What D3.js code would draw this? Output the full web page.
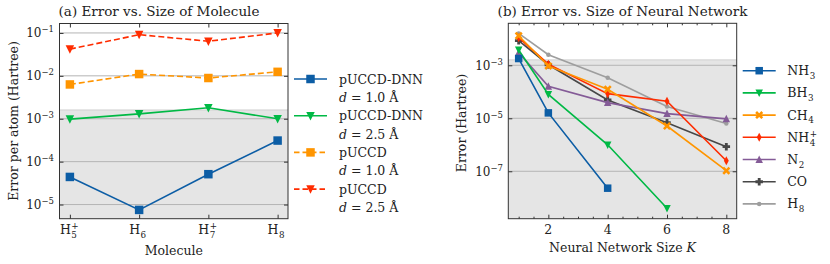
<!DOCTYPE html>
<html>
<head>
<meta charset="utf-8">
<script src="https://cdn.jsdelivr.net/npm/d3@7"></script>
<style>
body { margin: 0; background: #fff; }
</style>
</head>
<body>
<script>
// ---- data, panel (a) ----
var molBase = ["H", "H", "H", "H"];
var molSub = ["5", "6", "7", "8"];
var molSup = ["+", "", "+", ""];
var dnn10 = [4.4e-5, 7.5e-6, 5.1e-5, 3.1e-4];
var dnn25 = [9.8e-4, 1.3e-3, 1.8e-3, 1.0e-3];
var pu10 = [6.3e-3, 1.1e-2, 8.9e-3, 1.24e-2];
var pu25 = [4.2e-2, 9.1e-2, 6.4e-2, 1.0e-1];
var aDecades = [1e-1, 1e-2, 1e-3, 1e-4, 1e-5];
var aExps = [-1, -2, -3, -4, -5];

// ---- data, panel (b) ----
var sizesK = [1, 2, 4, 6, 8];
var xTicksB = [2, 4, 6, 8];
var nh3 = [1.8e-3, 1.6e-5, 2.3e-8];
var bh3 = [3.8e-3, 8.0e-5, 1.0e-6, 4.0e-9];
var ch4 = [1.3e-2, 0.95e-3, 1.25e-4, 5.1e-6, 1.05e-7];
var nh4 = [1.1e-2, 1.1e-3, 8.5e-5, 4.4e-5, 2.5e-7];
var n2 = [3.0e-3, 1.6e-4, 3.9e-5, 1.5e-5, 9.5e-6];
var co = [8.5e-3, 1.05e-3, 4.9e-5, 6.8e-6, 8.5e-7];
var h8 = [1.6e-2, 2.5e-3, 3.4e-4, 2.8e-5, 6.4e-6];
var bDecades = [1e-3, 1e-5, 1e-7];
var bExps = [-3, -5, -7];
var chemAcc = 1.6e-3;

var colors = ["#0C5DA5", "#00B945", "#FF9500", "#FF2C00", "#845B97", "#474747", "#9e9e9e"];

var FONT = "'DejaVu Serif', 'Liberation Serif', serif";
var svg = d3.select("body").append("svg").attr("width", 830).attr("height", 264)
    .attr("font-family", FONT);

// marker shapes
function marker(sel, type, size, color) {
    var s = size / 2, p;
    if (type == "s") p = [[-s,-s],[s,-s],[s,s],[-s,s]];
    else if (type == "v") p = [[-s,-s*0.9],[s,-s*0.9],[0,s*1.1]];
    else if (type == "^") p = [[-s,s*0.9],[s,s*0.9],[0,-s*1.1]];
    else if (type == "d") p = [[0,-s*1.2],[s*0.65,0],[0,s*1.2],[-s*0.65,0]];
    else if (type == "X") {
        var a = s*0.45, b = s;
        p = [[0,-a],[b-a,-b],[b,-b+a],[a,0],[b,b-a],[b-a,b],[0,a],[-b+a,b],[-b,b-a],[-a,0],[-b,-b+a],[-b+a,-b]];
    } else if (type == "P") {
        var t = s*0.38;
        p = [[-t,-s],[t,-s],[t,-t],[s,-t],[s,t],[t,t],[t,s],[-t,s],[-t,t],[-s,t],[-s,-t],[-t,-t]];
    }
    if (type == "o") {
        return sel.append("circle").attr("r", s).attr("fill", color);
    }
    return sel.append("path").attr("d", "M" + p.map(q => q.join(",")).join("L") + "Z")
        .attr("fill", color);
}

function txt(g, x, y, fs) {
    return g.append("text").attr("x", x).attr("y", y).attr("font-family", FONT)
        .attr("font-size", fs).attr("fill", "#222");
}

function powLabel(g, x, y, exp) {
    var t = txt(g, x, y, 12).attr("text-anchor", "end");
    t.append("tspan").text("10");
    t.append("tspan").attr("dy", -5).attr("font-size", 8.5).text("\u2212" + Math.abs(exp));
}

function chemLabel(g, x, y, base, sub, sup, fs) {
    var t = txt(g, x, y, fs);
    t.append("tspan").text(base);
    var w = t.node().getComputedTextLength();
    txt(g, x + w + 0.5, y + fs * 0.3, fs * 0.7).text(sub);
    if (sup) txt(g, x + w + 0.5, y - fs * 0.4, fs * 0.7).text(sup);
    return t;
}

function frame(g, x, y) {
    var x0 = x.range()[0], x1 = x.range()[1], y0 = y.range()[0], y1 = y.range()[1];
    g.append("rect").attr("x", x0).attr("y", y1).attr("width", x1 - x0).attr("height", y0 - y1)
        .attr("fill", "none").attr("stroke", "#333").attr("stroke-width", 1);
}

// =============== panel (a) ===============
var xa = d3.scaleLinear().domain([-0.15, 3.15]).range([59.5, 288]);
var ya = d3.scaleLog().domain([Math.pow(10, -5.33), Math.pow(10, -0.78)]).range([218.7, 23.5]);
var ga = svg.append("g");

ga.append("rect").attr("x", 59.5).attr("y", ya(chemAcc)).attr("width", 288 - 59.5)
    .attr("height", 218.7 - ya(chemAcc)).attr("fill", "#e5e5e5");
ga.append("line").attr("x1", 59.5).attr("x2", 288).attr("y1", ya(chemAcc)).attr("y2", ya(chemAcc))
    .attr("stroke", "#d0d0d0").attr("stroke-width", 1);

ga.append("g").selectAll("line").data(aDecades).enter().append("line")
    .attr("x1", 59.5).attr("x2", 288).attr("y1", d => ya(d)).attr("y2", d => ya(d))
    .attr("stroke", "#b4b4b4").attr("stroke-width", 1);

// ticks inward
ga.append("g").attr("transform", "translate(59.5,0)").call(d3.axisLeft(ya).tickValues(aDecades).tickSize(-4).tickFormat(""));
ga.append("g").attr("transform", "translate(288,0)").call(d3.axisRight(ya).tickValues(aDecades).tickSize(-4).tickFormat(""));
ga.append("g").attr("transform", "translate(0,218.7)").call(d3.axisBottom(xa).tickValues([0,1,2,3]).tickSize(-4).tickFormat(""));
ga.append("g").attr("transform", "translate(0,23.5)").call(d3.axisTop(xa).tickValues([0,1,2,3]).tickSize(-4).tickFormat(""));
ga.selectAll(".domain").remove();
ga.selectAll(".tick line").attr("stroke", "#333");

var seriesA = [
    {v: dnn10, c: colors[0], m: "s", dash: null},
    {v: dnn25, c: colors[1], m: "v", dash: null},
    {v: pu10, c: colors[2], m: "s", dash: "6,3"},
    {v: pu25, c: colors[3], m: "v", dash: "6,3"}
];
var lineA = d3.line().x((d, i) => xa(i)).y(d => ya(d));
seriesA.forEach(function(s) {
    ga.append("path").attr("d", lineA(s.v)).attr("fill", "none").attr("stroke", s.c)
        .attr("stroke-width", 1.6).attr("stroke-dasharray", s.dash);
    s.v.forEach(function(d, i) {
        marker(ga.append("g").attr("transform", "translate(" + xa(i) + "," + ya(d) + ")"), s.m, 8.5, s.c);
    });
});
frame(ga, xa, ya);

aDecades.forEach(function(d, i) { powLabel(ga, 54, ya(d) + 4.5, aExps[i]); });
molBase.forEach(function(b, i) {
    chemLabel(ga, xa(i) - 10, 234, b, molSub[i], molSup[i], 12.5);
});
txt(ga, xa(1.5), 255, 12.5).attr("text-anchor", "middle").text("Molecule");
txt(ga, 0, 0, 12.5).attr("transform", "translate(18,121) rotate(-90)").attr("text-anchor", "middle")
    .text("Error per atom (Hartree)");
txt(ga, 159, 16, 13.5).attr("text-anchor", "middle").text("(a) Error vs. Size of Molecule");

// legend (a)
var legA = [
    {name: "pUCCD-DNN", d: "1.0"},
    {name: "pUCCD-DNN", d: "2.5"},
    {name: "pUCCD", d: "1.0"},
    {name: "pUCCD", d: "2.5"}
];
legA.forEach(function(l, i) {
    var s = seriesA[i], y = 79 + i * 36.7;
    ga.append("line").attr("x1", 294).attr("x2", 327).attr("y1", y).attr("y2", y)
        .attr("stroke", s.c).attr("stroke-width", 1.6).attr("stroke-dasharray", s.dash ? "5.5,3" : null);
    marker(ga.append("g").attr("transform", "translate(310.5," + y + ")"), s.m, 8.5, s.c);
    txt(ga, 339, y + 4.5, 12.5).text(l.name);
    var t = txt(ga, 339, y + 23, 12.5);
    t.append("tspan").attr("font-style", "italic").text("d");
    t.append("tspan").text(" = " + l.d + " \u00c5");
});

// =============== panel (b) ===============
var xb = d3.scaleLinear().domain([0.65, 8.35]).range([508.3, 736.7]);
var yb = d3.scaleLog().domain([Math.pow(10, -8.79), Math.pow(10, -1.415)]).range([218.7, 23.3]);
var gb = svg.append("g");

gb.append("rect").attr("x", 508.3).attr("y", yb(chemAcc)).attr("width", 736.7 - 508.3)
    .attr("height", 218.7 - yb(chemAcc)).attr("fill", "#e5e5e5");
gb.append("line").attr("x1", 508.3).attr("x2", 736.7).attr("y1", yb(chemAcc)).attr("y2", yb(chemAcc))
    .attr("stroke", "#d0d0d0").attr("stroke-width", 1);
gb.append("g").selectAll("line").data(bDecades).enter().append("line")
    .attr("x1", 508.3).attr("x2", 736.7).attr("y1", d => yb(d)).attr("y2", d => yb(d))
    .attr("stroke", "#b4b4b4").attr("stroke-width", 1);

var minorB = d3.range(1, 8.01, 0.5).filter(k => xTicksB.indexOf(k) < 0);
gb.append("g").attr("transform", "translate(508.3,0)").call(d3.axisLeft(yb).tickValues(bDecades).tickSize(-4).tickFormat(""));
gb.append("g").attr("transform", "translate(736.7,0)").call(d3.axisRight(yb).tickValues(bDecades).tickSize(-4).tickFormat(""));
gb.append("g").attr("transform", "translate(0,218.7)").call(d3.axisBottom(xb).tickValues(xTicksB).tickSize(-4).tickFormat(""));
gb.append("g").attr("transform", "translate(0,23.3)").call(d3.axisTop(xb).tickValues(xTicksB).tickSize(-4).tickFormat(""));
gb.append("g").attr("transform", "translate(0,218.7)").call(d3.axisBottom(xb).tickValues(minorB).tickSize(-2).tickFormat(""));
gb.append("g").attr("transform", "translate(0,23.3)").call(d3.axisTop(xb).tickValues(minorB).tickSize(-2).tickFormat(""));
gb.selectAll(".domain").remove();
gb.selectAll(".tick line").attr("stroke", "#333");

var seriesB = [
    {v: nh3, m: "s", size: 7.5, base: "NH", sub: "3", sup: ""},
    {v: bh3, m: "v", size: 7.5, base: "BH", sub: "3", sup: ""},
    {v: ch4, m: "X", size: 8, base: "CH", sub: "4", sup: ""},
    {v: nh4, m: "d", size: 7.5, base: "NH", sub: "4", sup: "+"},
    {v: n2, m: "^", size: 7.5, base: "N", sub: "2", sup: ""},
    {v: co, m: "P", size: 7.5, base: "CO", sub: "", sup: ""},
    {v: h8, m: "o", size: 4.5, base: "H", sub: "8", sup: ""}
];
var lineB = d3.line().x((d, i) => xb(sizesK[i])).y(d => yb(d));
// draw in reverse so the first series sits on top
seriesB.slice().reverse().forEach(function(s) {
    var c = colors[seriesB.indexOf(s)];
    gb.append("path").attr("d", lineB(s.v)).attr("fill", "none").attr("stroke", c).attr("stroke-width", 1.6);
    s.v.forEach(function(d, i) {
        marker(gb.append("g").attr("transform", "translate(" + xb(sizesK[i]) + "," + yb(d) + ")"), s.m, s.size, c);
    });
});
frame(gb, xb, yb);

bDecades.forEach(function(d, i) { powLabel(gb, 503, yb(d) + 4.5, bExps[i]); });
xTicksB.forEach(function(k) {
    txt(gb, xb(k), 234, 12.5).attr("text-anchor", "middle").text(k);
});
var xl = txt(gb, xb(4.5), 252, 12.5).attr("text-anchor", "middle");
xl.append("tspan").text("Neural Network Size ");
xl.append("tspan").attr("font-style", "italic").text("K");
txt(gb, 0, 0, 12.5).attr("transform", "translate(466,123) rotate(-90)").attr("text-anchor", "middle")
    .text("Error (Hartree)");
txt(gb, 622.5, 16, 13.5).attr("text-anchor", "middle").text("(b) Error vs. Size of Neural Network");

// legend (b)
seriesB.forEach(function(s, i) {
    var c = colors[i], y = 70.7 + i * 22.2;
    gb.append("line").attr("x1", 742.7).attr("x2", 775.7).attr("y1", y).attr("y2", y)
        .attr("stroke", c).attr("stroke-width", 1.6);
    marker(gb.append("g").attr("transform", "translate(759.2," + y + ")"), s.m, s.size, c);
    chemLabel(gb, 787.3, y + 4.5, s.base, s.sub, s.sup, 12.5);
});
</script>
</body>
</html>
